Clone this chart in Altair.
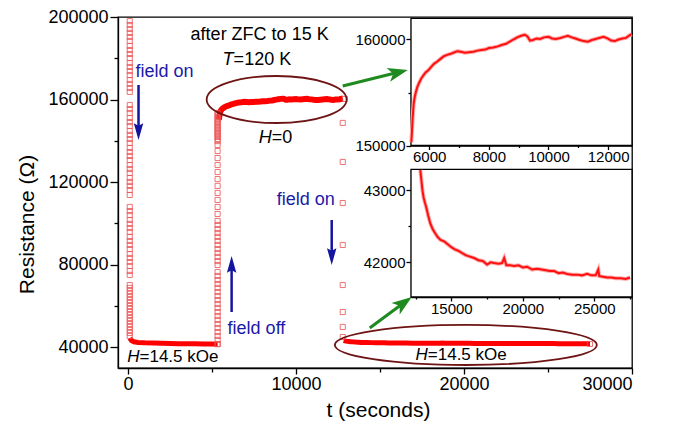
import altair as alt
import pandas as pd

FONT = "Liberation Sans"

# ---------------- data ----------------
# segment A: field on, dense trace
a_t = [100, 200, 350, 600, 1000, 1500, 2000, 2500, 3000, 3500, 4000, 4500, 5000, 5330]
a_r = [44500, 43300, 42700, 42400, 42200, 42050, 41950, 41850, 41800, 41750, 41700, 41650, 41600, 41550]

# first drop (field on at t~100 s), open squares
drop1_t = 100
drop1_r = [198000, 196100, 194200, 192300, 190300, 188400, 186000, 184000, 182100, 180100,
           177700, 175800, 173800, 171900, 169500, 167600, 165600, 163700,
           157400, 155400, 153500, 151100, 149100, 147200, 144800, 142900, 140900, 139000,
           136600, 134600, 132700, 130700, 128300, 126400, 124500, 122000, 120100, 118200,
           116200, 113800,
           108000, 106000, 104100, 101700, 99800, 97800, 95900, 93500, 91500, 89600,
           87600, 85200, 83300, 81300, 79400, 77000, 75100,
           70200, 68800, 67300, 65900, 64400, 62900, 61500, 60000, 58600, 57100,
           55700, 54200, 52800, 51300, 49900, 48400, 47000, 45500]

# rise (field off at t~5330 s), open squares
rise_t = 5330
rise_r = [153500, 152500, 151600, 150600, 149600, 148700, 147700, 146700, 145800, 144800,
          143800, 142900, 141900, 140900, 139900,
          138000, 135100, 131700, 128300, 124900, 121500, 118200, 114800, 111400, 108000,
          104600, 101200,
          99300, 97300, 95400, 93500, 91500, 89600, 87600, 85700, 83800, 81800, 79900,
          76500, 74600, 72600, 70700, 68800, 66800, 64900, 62900, 61000, 59100, 57100,
          55200, 53300, 51300, 49400, 47400, 45500, 43600, 41600]

# second drop (field on at t~12780 s)
drop2_t = 12780
drop2_r = [148700, 129800, 109900, 89600, 70200, 57100, 49900, 45000]

# last points of each dense segment
end_t = [5330, 12900, 27500]
end_r = [41550, 160300, 41650]

# segment B: H = 0 (also upper inset)
b_t = [5400, 5420, 5440, 5460, 5480, 5510, 5550, 5600, 5660, 5730, 5800, 5880, 5970, 6060,
       6160, 6260, 6370, 6480, 6600, 6720, 6850, 6950, 7060, 7200, 7330, 7480, 7620, 7750,
       7880, 8000, 8150, 8300, 8450, 8580, 8700, 8820, 8950, 9080, 9200, 9290, 9380, 9480,
       9600, 9720, 9850, 10000, 10120, 10250, 10400, 10520, 10650, 10780, 10900, 11050,
       11180, 11320, 11450, 11580, 11700, 11850, 11980, 12100, 12220, 12350, 12480, 12600,
       12720, 12790]
b_r = [150300, 151200, 152300, 153200, 153900, 154500, 155000, 155500, 155900, 156300,
       156600, 156900, 157100, 157400, 157700, 157900, 158150, 158400, 158550, 158650,
       158800, 158900, 158850, 158750, 158800, 158850, 158950, 159000, 159050, 159200,
       159250, 159350, 159500, 159600, 159800, 160000, 160200, 160350, 160450, 160300,
       159900, 159950, 160100, 160050, 160200, 160250, 160100, 160050, 160150, 160250,
       160350, 160200, 160100, 159950, 159850, 159800, 159950, 160050, 160150, 160250,
       160100, 159900, 159850, 160000, 160100, 160150, 160400, 160500]

# segment C: H = 14.5 kOe (also lower inset)
c_t = [12830, 12900, 12980, 13060, 13150, 13250, 13380, 13530, 13700, 13880, 14050, 14250,
       14500, 14750, 15000, 15250, 15500, 15750, 16000, 16300, 16600, 16900, 17200, 17500,
       17750, 18000, 18300, 18550, 18700, 18850, 19100, 19400, 19700, 20000, 20300, 20650,
       21000, 21300, 21600, 21900, 22200, 22500, 22800, 23100, 23450, 23800, 24150, 24500,
       24800, 25100, 25280, 25350, 25600, 25900, 26200, 26500, 26850, 27200, 27500]
c_r = [43280, 43150, 43000, 42900, 42830, 42760, 42650, 42540, 42460, 42400, 42350, 42310,
       42290, 42250, 42210, 42180, 42160, 42130, 42100, 42080, 42060, 42030, 42020, 41970,
       42000, 41990, 41980, 41990, 42060, 41960, 41960, 41950, 41960, 41930, 41940, 41900,
       41910, 41900, 41890, 41880, 41880, 41850, 41860, 41840, 41830, 41830, 41820, 41840,
       41820, 41820, 41900, 41810, 41800, 41790, 41790, 41780, 41780, 41770, 41790]

# axis tick values
main_x_ticks = [0, 5000, 10000, 15000, 20000, 25000, 30000]
main_y_ticks = [40000, 60000, 80000, 100000, 120000, 140000, 160000, 180000, 200000]
up_x_ticks = [6000, 7000, 8000, 9000, 10000, 11000, 12000]
up_y_ticks = [150000, 155000, 160000]
lo_x_ticks = [12500, 15000, 17500, 20000, 22500, 25000, 27500]
lo_y_ticks = [42000, 42500, 43000]

# domains
main_x_dom = [-600, 30000]
main_y_dom = [30000, 200000]
up_x_dom = [5390, 12800]
up_y_dom = [150000, 162000]
lo_x_dom = [12180, 27640]
lo_y_dom = [41520, 43290]

# ---------------- tables ----------------
df_a = pd.DataFrame({"t": a_t, "r": a_r})
df_b = pd.DataFrame({"t": b_t, "r": b_r})
df_c = pd.DataFrame({"t": c_t, "r": c_r})
sq_t = [drop1_t] * len(drop1_r) + [rise_t] * len(rise_r) + [drop2_t] * len(drop2_r) + end_t
sq_r = drop1_r + rise_r + drop2_r + end_r
df_sq = pd.DataFrame({"t": sq_t, "r": sq_r})


def tick_axis(values, major, big, small, **kw):
    return alt.Axis(values=values, format="d",
                    tickSize={"condition": {"test": major, "value": big}, "value": small},
                    labelExpr="(" + major + ") ? datum.label : ''", **kw)


X = alt.X("t:Q", scale=alt.Scale(domain=main_x_dom, nice=False, zero=False),
          axis=tick_axis(main_x_ticks, "datum.value % 10000 == 0", 6, 4,
                         title="t (seconds)", titleFontSize=21, titleX=260, titleY=42,
                         titleBaseline="middle", labelFontSize=18, labelPadding=1))
Y = alt.Y("r:Q", scale=alt.Scale(domain=main_y_dom, nice=False, zero=False),
          axis=tick_axis(main_y_ticks, "datum.value % 40000 == 0", 8, 4,
                         title="Resistance (Ω)", titleFontSize=21, titleX=-91, titleY=207,
                         titleBaseline="middle", titleAngle=-90, titleAlign="center",
                         labelFontSize=18, labelPadding=2))

band_a = alt.Chart(df_a).mark_line(color="#ff0000", strokeWidth=5).encode(x=X, y=Y)
band_b = alt.Chart(df_b).mark_line(color="#ff0000", strokeWidth=6).encode(x=X, y=Y)
band_c = alt.Chart(df_c).mark_line(color="#ff0000", strokeWidth=5).encode(x=X, y=Y)
squares = alt.Chart(df_sq).mark_point(shape="square", filled=False, size=26, strokeWidth=1,
                                      color="#ec5050", opacity=0.8).encode(x=X, y=Y)


def ellipse_path(e):
    k = 0.5523
    ek = round(e * k, 4)
    return (f"M 1 0 C 1 {ek} {k} {e} 0 {e} C {-k} {e} -1 {ek} -1 0 "
            f"C -1 {-ek} {-k} {-e} 0 {-e} C {k} {-e} 1 {-ek} 1 0 Z")


ell_u = alt.Chart(pd.DataFrame({"t": [8845], "r": [160045]})).mark_point(
    shape=ellipse_path(0.336), size=19600, filled=False, color="#6e1414",
    strokeWidth=1.8, opacity=1).encode(x=X, y=Y)
ell_l = alt.Chart(pd.DataFrame({"t": [20108], "r": [41150]})).mark_point(
    shape=ellipse_path(0.153), size=68644, filled=False, color="#6e1414",
    strokeWidth=1.8, opacity=1).encode(x=X, y=Y)

GREEN = "#1f8a1f"
BLUE = "#14149e"
g_shaft = alt.Chart(pd.DataFrame({"t": [12778, 14387], "r": [166583, 49383],
                                  "t2": [15841, 16216], "r2": [172733, 60373]})).mark_rule(
    color=GREEN, strokeWidth=3).encode(x=X, y=Y, x2="t2:Q", y2="r2:Q")
g_head = alt.Chart(pd.DataFrame({"t": [16652, 16890], "r": [174332, 64396],
                                 "ang": [76, 54]})).mark_point(
    shape="M 0 0 L 0.7 2 L 0 1.5 L -0.7 2 Z", size=400, filled=True, color=GREEN,
    opacity=1).encode(x=X, y=Y, angle=alt.Angle("ang:Q", scale=None))

b_shaft = alt.Chart(pd.DataFrame({"t": [622, 6164, 12123], "r": [167068, 57131, 101687],
                                  "t2": [622, 6164, 12123],
                                  "r2": [146243, 78441, 85705]})).mark_rule(
    color=BLUE, strokeWidth=2.5).encode(x=X, y=Y, x2="t2:Q", y2="r2:Q")
b_head = alt.Chart(pd.DataFrame({"t": [622, 6164, 12123], "r": [140431, 84252, 79894],
                                 "ang": [180, 0, 180]})).mark_point(
    shape="M 0 0 L 0.45 1.6 L 0 1.35 L -0.45 1.6 Z", size=440, filled=True, color=BLUE,
    opacity=1).encode(x=X, y=Y, angle=alt.Angle("ang:Q", scale=None))

txt_center = alt.Chart(pd.DataFrame({"t": [7832], "r": [191283], "s": ["after ZFC to 15 K"]})
                       ).mark_text(align="center", baseline="middle", font=FONT, fontSize=18,
                                   color="black").encode(x=X, y=Y, text="s:N")
txt_left = alt.Chart(pd.DataFrame({
    "t": [6283, 8547, 681, 17843, 443, 5925],
    "r": [179175, 141400, 35338, 36307, 173364, 48898],
    "s": ["=120 K", "=0", "=14.5 kOe", "=14.5 kOe", "field on", "field off"],
    "c": ["black", "black", "black", "black", "#1a1aa8", "#1a1aa8"],
    "fs": [18, 18, 17, 17, 18, 18]})).mark_text(
    align="left", baseline="middle", font=FONT).encode(
    x=X, y=Y, text="s:N", color=alt.Color("c:N", scale=None), size=alt.Size("fs:Q", scale=None))
txt_ital = alt.Chart(pd.DataFrame({
    "t": [6283, 8547, 681, 17843],
    "r": [179175, 141400, 35338, 36307],
    "s": ["T", "H", "H", "H"],
    "fs": [18, 18, 17, 17]})).mark_text(
    align="right", baseline="middle", font=FONT, fontStyle="italic", color="black").encode(
    x=X, y=Y, text="s:N", size=alt.Size("fs:Q", scale=None))
txt_right = alt.Chart(pd.DataFrame({"t": [12301], "r": [111373], "s": ["field on"]})
                      ).mark_text(align="right", baseline="middle", font=FONT, fontSize=18,
                                  color="#1a1aa8").encode(x=X, y=Y, text="s:N")

main = alt.layer(band_a, band_b, band_c, squares, ell_u, ell_l, g_shaft, g_head,
                 b_shaft, b_head, txt_center, txt_left, txt_ital, txt_right)

# ---------------- insets ----------------
W, H = 514, 351


def inset(df, xdom, ydom, xr, yr, xticks, xmaj, yticks, ymaj):
    xs = alt.X("t:Q", scale=alt.Scale(domain=xdom, range=xr, nice=False, zero=False),
               axis=tick_axis(xticks, xmaj, 4, 2, title=None, orient="bottom",
                              offset=yr[0] - H, labelFontSize=15, labelPadding=0))
    ys = alt.Y("r:Q", scale=alt.Scale(domain=ydom, range=yr, nice=False, zero=False),
               axis=tick_axis(yticks, ymaj, 5, 3, title=None, orient="left",
                              offset=-xr[0], labelFontSize=15, labelPadding=1))
    frame = alt.Chart(pd.DataFrame({"t": [xdom[0]], "t2": [xdom[1]],
                                    "r": [ydom[0]], "r2": [ydom[1]]})).mark_rect(
        fill="white", stroke="black", strokeWidth=1.3).encode(
        x=xs, y=ys, x2="t2:Q", y2="r2:Q")
    halo = alt.Chart(df).mark_line(color="#ffaaaa", strokeWidth=4).encode(x=xs, y=ys)
    line = alt.Chart(df).mark_line(color="#ff1010", strokeWidth=2).encode(x=xs, y=ys)
    return alt.layer(frame, halo, line)


upper = inset(df_b, up_x_dom, up_y_dom, [293, 514], [128.5, 1.3], up_x_ticks,
              "datum.value % 2000 == 0", up_y_ticks, "datum.value % 10000 == 0")
lower = inset(df_c, lo_x_dom, lo_y_dom, [293, 514], [280, 152.3], lo_x_ticks,
              "datum.value % 5000 == 0", lo_y_ticks, "datum.value % 1000 == 0")

chart = alt.layer(main, upper, lower).resolve_scale(
    x="independent", y="independent").resolve_axis(
    x="independent", y="independent").properties(
    width=W, height=H, autosize=alt.AutoSizeParams(type="none"),
    padding={"left": 110, "top": 9, "right": 30, "bottom": 60},
    background="white").configure_view(
    stroke="black", strokeWidth=1.3).configure_axis(
    grid=False, domainColor="black", domainWidth=1.3, tickColor="black", tickWidth=1.3,
    labelColor="black", labelFont=FONT, titleFont=FONT, titleColor="black",
    titleFontWeight="normal").configure_text(font=FONT)

chart.save("out.html", embed_options={"renderer": "svg", "actions": False})
